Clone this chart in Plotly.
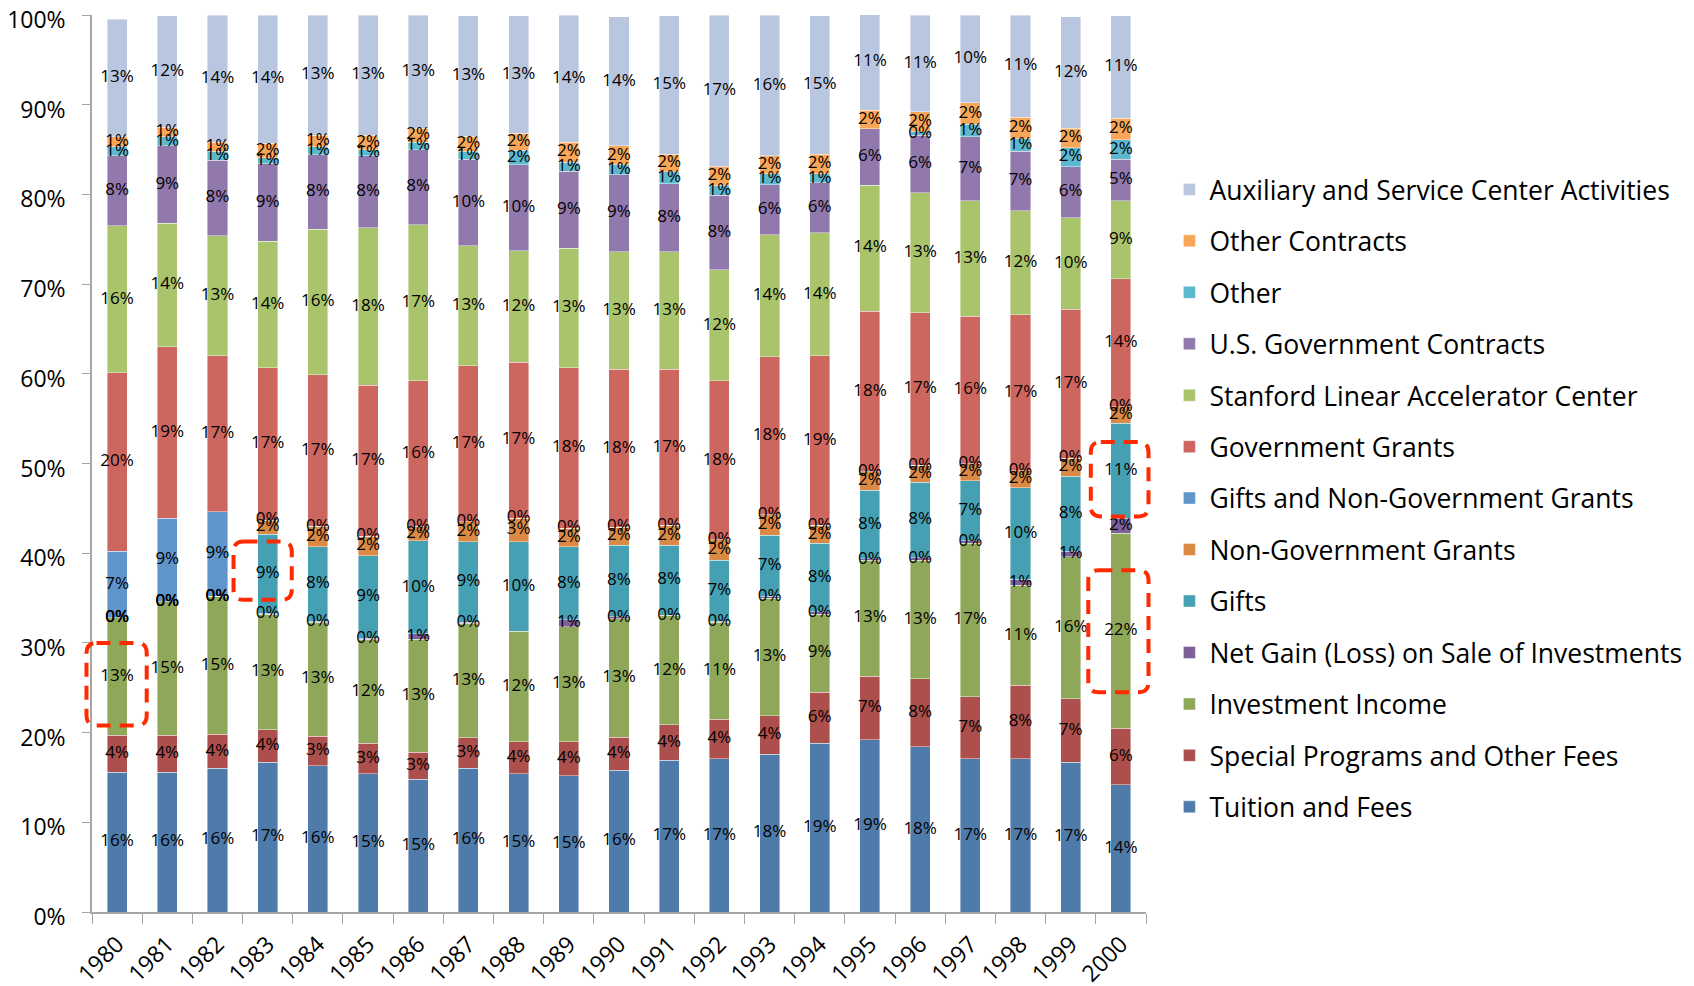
import plotly.graph_objects as go

years = [str(y) for y in range(1980, 2001)]

# values in percent of total revenue (bottom of stack first)
tuition = [15.6, 15.6, 16.0, 16.7, 16.3, 15.4, 14.8, 16.0, 15.4, 15.2, 15.8, 16.9, 17.1, 17.6, 18.8, 19.2, 18.4, 17.1, 17.1, 16.7, 14.2]
special_programs = [4.1, 4.1, 3.8, 3.6, 3.3, 3.4, 3.0, 3.4, 3.6, 3.8, 3.7, 4.0, 4.4, 4.3, 5.7, 7.1, 7.6, 6.9, 8.2, 7.1, 6.3]
investment_income = [13.1, 14.9, 15.4, 12.9, 12.7, 11.6, 12.6, 12.8, 12.3, 12.8, 13.2, 12.1, 10.8, 13.1, 8.7, 12.9, 13.2, 17.1, 11.1, 15.8, 21.7]
net_gain = [0, 0, 0, 0.1, 0.1, 0.1, 0.6, 0.1, None, 0.8, 0.2, 0.1, 0.1, 0.2, 0.3, 0.2, 0.3, 0.3, 0.7, 0.6, 1.7]
gifts = [0, 0, 0, 8.8, 8.3, 9.2, 10.4, 9.0, 10.0, 8.1, 8.0, 7.8, 6.8, 6.8, 7.6, 7.6, 8.4, 6.7, 10.2, 8.4, 10.6]
non_gov_grants = [0, 0, 0, 1.6, 2.3, 2.2, 1.6, 2.2, 2.6, 2.1, 2.0, 2.2, 2.3, 2.3, 2.0, 2.1, 1.9, 1.9, 1.9, 2.0, 1.8]
gifts_and_ngg = [7.4, 9.3, 9.4, 0, 0, 0, 0, 0, 0, 0, 0, 0, 0, 0, 0, 0, 0, 0, 0, 0, 0]
gov_grants = [19.9, 19.1, 17.4, 17.0, 16.9, 16.8, 16.2, 17.4, 17.4, 17.9, 17.6, 17.4, 17.7, 17.6, 18.9, 17.9, 17.0, 16.4, 17.4, 16.6, 14.3]
slac = [16.4, 13.8, 13.4, 14.1, 16.2, 17.6, 17.4, 13.4, 12.4, 13.3, 13.1, 13.1, 12.4, 13.6, 13.7, 14.0, 13.4, 12.9, 11.6, 10.2, 8.7]
us_gov_contracts = [7.8, 8.6, 8.4, 8.6, 8.3, 8.0, 8.4, 9.6, 9.6, 8.6, 8.6, 7.6, 8.3, 5.6, 5.6, 6.3, 6.4, 7.1, 6.6, 5.7, 4.6]
other = [1.0, 1.0, 1.0, 0.7, 0.9, 0.7, 0.8, 0.9, 1.6, 1.0, 1.1, 1.3, 1.1, 1.2, 1.0, None, 0.4, 1.4, 1.4, 2.1, 2.2]
other_contracts = [1.1, 1.1, 1.0, 1.6, 1.3, 1.6, 1.6, 1.7, 1.9, 2.2, 2.1, 2.0, 2.1, 2.0, 2.2, 2.1, 2.2, 2.4, 2.4, 2.2, 2.4]
auxiliary = [13.1, 12.4, 14.2, 14.3, 13.4, 13.4, 12.6, 13.4, 13.1, 14.2, 14.4, 15.4, 16.9, 15.7, 15.4, 10.7, 10.8, 9.8, 11.4, 12.4, 11.4]

series = [
    ("Tuition and Fees", tuition, "#4F7BAB"),
    ("Special Programs and Other Fees", special_programs, "#AD504D"),
    ("Investment Income", investment_income, "#8FA758"),
    ("Net Gain (Loss) on Sale of Investments", net_gain, "#7D5F99"),
    ("Gifts", gifts, "#46A0B4"),
    ("Non-Government Grants", non_gov_grants, "#DB8A45"),
    ("Gifts and Non-Government Grants", gifts_and_ngg, "#5F95CB"),
    ("Government Grants", gov_grants, "#CD665F"),
    ("Stanford Linear Accelerator Center", slac, "#AAC46C"),
    ("U.S. Government Contracts", us_gov_contracts, "#9279AD"),
    ("Other", other, "#5CB8CE"),
    ("Other Contracts", other_contracts, "#F8A657"),
    ("Auxiliary and Service Center Activities", auxiliary, "#B9C6E0"),
]

FONT = "Open Sans"
fig = go.Figure()
for i, (name, vals, color) in enumerate(series):
    fig.add_trace(go.Bar(
        x=years, y=vals, name=name, legendgroup=f"g{i}", legendrank=100 - i,
        marker=dict(color=color, line=dict(color="rgba(255,255,255,0.7)", width=0.6)),
        hoverinfo="x+y+name",
    ))

# data labels drawn above all bars, centred in each stacked segment
base = [0.0] * len(years)
for name, vals, color in series:
    xs, ys, ts = [], [], []
    for k, v in enumerate(vals):
        if v is None:
            continue
        xs.append(years[k])
        ys.append(base[k] + v / 2)
        ts.append(f"{v:.0f}%")
        base[k] += v
    fig.add_trace(go.Scatter(
        x=xs, y=ys, text=ts, mode="text", showlegend=False, hoverinfo="skip",
        cliponaxis=False, textfont=dict(family=FONT, size=17, color="black"),
    ))

N = len(years)
ML, MR, MT, MB = 84, 556, 7, 82
PLOT_W = 1694 - ML - MR
PLOT_H = 986 - MT - MB

def rounded_box(i0, i1, p0, p1, r=10):
    X0, X1 = (i0 + 0.5) / N, (i1 + 0.5) / N
    Y0, Y1 = p0 / 100, p1 / 100
    rx, ry = r / PLOT_W, r / PLOT_H
    return (f"M{X0+rx},{Y1} L{X1-rx},{Y1} Q{X1},{Y1} {X1},{Y1-ry} "
            f"L{X1},{Y0+ry} Q{X1},{Y0} {X1-rx},{Y0} L{X0+rx},{Y0} "
            f"Q{X0},{Y0} {X0},{Y0+ry} L{X0},{Y1-ry} Q{X0},{Y1} {X0+rx},{Y1} Z")

boxes = [(-0.61, 0.59, 20.8, 30.0), (2.32, 3.48, 34.8, 41.3),
         (19.4, 20.55, 44.1, 52.4), (19.35, 20.55, 24.5, 38.1)]
for b in boxes:
    fig.add_shape(type="path", path=rounded_box(*b), xref="paper", yref="paper",
                  line=dict(color="#FF2A00", width=4, dash="14px,9px"), layer="above")

axis_col = "#A6A6A6"
ytick_vals = list(range(0, 101, 10))
fig.update_layout(
    width=1694, height=986,
    barmode="stack", bargap=0.6,
    plot_bgcolor="white", paper_bgcolor="white",
    margin=dict(l=ML, r=MR, t=MT, b=MB, autoexpand=False),
    font=dict(family=FONT, size=22, color="black"),
    showlegend=True,
    legend=dict(x=1.0222, y=0.832, xanchor="left", yanchor="top",
                traceorder="grouped", tracegroupgap=14,
                font=dict(family=FONT, size=26.5, color="black"),
                bgcolor="rgba(0,0,0,0)"),
    xaxis=dict(type="category", range=[-0.5, N - 0.5], showline=True, linecolor=axis_col,
               linewidth=1.5, ticks="outside", tickson="boundaries", ticklen=10,
               tickcolor=axis_col, tickangle=-45, tickfont=dict(family=FONT, size=23),
               ticklabelstandoff=8, showgrid=False, automargin=False),
    yaxis=dict(range=[0, 100], tickmode="array", tickvals=ytick_vals,
               ticktext=[f"{v}%" for v in ytick_vals], showline=True, linecolor=axis_col,
               linewidth=1.5, ticks="outside", ticklen=8, tickcolor=axis_col,
               ticklabelstandoff=12, ticklabelshift=5, ticklabeloverflow="allow",
               automargin=False, tickfont=dict(family=FONT, size=23),
               showgrid=False, zeroline=False),
)

fig.write_html("out.html")
